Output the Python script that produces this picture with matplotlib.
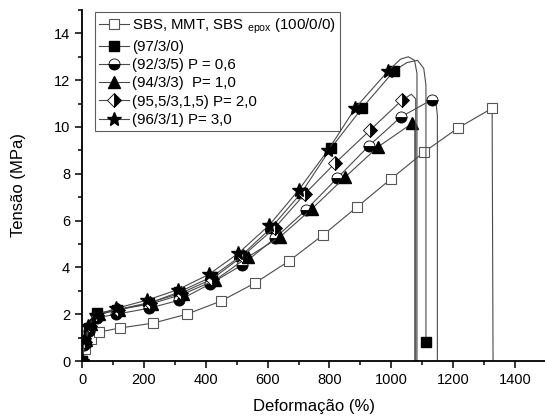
import matplotlib.pyplot as plt
from matplotlib.ticker import MultipleLocator

plt.rcParams["font.family"] = ["Liberation Sans", "DejaVu Sans"]
plt.rcParams["mathtext.fontset"] = "custom"
plt.rcParams["mathtext.rm"] = "Liberation Sans"

# strain (%) and stress (MPa); last points are the rupture tail
x_100 = [0, 10, 28, 55, 123, 230, 339, 449, 559, 669, 779, 889, 999, 1106, 1216, 1326, 1329]
y_100 = [0, 0.5, 0.95, 1.24, 1.41, 1.62, 2.0, 2.56, 3.33, 4.27, 5.38, 6.58, 7.78, 8.93, 9.96, 10.8, 0]

x_97 = [0, 10, 22, 48, 113, 217, 314, 420, 515, 612, 710, 805, 905, 1009, 1050, 1085, 1105, 1112, 1112]
y_97 = [0, 0.8, 1.4, 2.05, 2.18, 2.47, 2.95, 3.6, 4.5, 5.7, 7.2, 9.1, 10.8, 12.4, 12.75, 12.85, 12.5, 11.8, 0.8]

x_92 = [0, 8, 22, 50, 110, 215, 315, 415, 517, 624, 724, 824, 928, 1031, 1132, 1145, 1149, 1149]
y_92 = [0, 0.7, 1.3, 1.85, 2.0, 2.25, 2.6, 3.3, 4.1, 5.25, 6.45, 7.8, 9.2, 10.43, 11.17, 11.0, 10.5, 0]

x_94 = [0, 12, 28, 55, 120, 225, 325, 430, 537, 640, 743, 850, 957, 1067, 1076, 1076]
y_94 = [0, 0.9, 1.6, 2.0, 2.2, 2.45, 2.85, 3.45, 4.45, 5.3, 6.5, 7.85, 9.15, 10.15, 10.1, 0]

x_95 = [0, 10, 25, 50, 115, 220, 320, 420, 521, 624, 721, 818, 931, 1034, 1065, 1079, 1079]
y_95 = [0, 0.8, 1.5, 1.95, 2.2, 2.5, 2.9, 3.5, 4.5, 5.7, 7.15, 8.45, 9.86, 11.14, 11.4, 11.2, 0]

x_96 = [0, 8, 20, 45, 110, 210, 310, 410, 505, 605, 700, 795, 883, 990, 1030, 1055, 1075, 1083, 1083]
y_96 = [0, 0.9, 1.5, 1.95, 2.25, 2.6, 3.05, 3.7, 4.6, 5.8, 7.3, 9.0, 10.8, 12.4, 12.9, 13.0, 12.85, 12.3, 0]

labels = ["SBS, MMT, SBS $_{\\mathrm{epox}}$ (100/0/0)", "(97/3/0)", "(92/3/5) P = 0,6",
          "(94/3/3)  P= 1,0", "(95,5/3,1,5) P= 2,0", "(96/3/1) P= 3,0"]

fig = plt.figure(figsize=(5.45, 4.16), dpi=100)
ax = fig.add_axes([0.1505, 0.1322, 0.8495, 0.8438])

lc = "#4a4a4a"
lw = 0.8
ax.plot(x_100, y_100, color=lc, lw=lw, marker="s", ms=7.5, mfc="white", mec="#555555",
        mew=0.8, markevery=slice(0, 16), label=labels[0])
ax.plot(x_97, y_97, color=lc, lw=lw, marker="s", ms=7.5, mfc="black", mec="black",
        markevery=list(range(14)) + [18], label=labels[1])
ax.plot(x_92, y_92, color=lc, lw=lw, marker="o", ms=8, fillstyle="bottom", mfc="black",
        mfcalt="white", mec="black", mew=0.6, markevery=slice(0, 15), label=labels[2])
ax.plot(x_94, y_94, color=lc, lw=lw, marker="^", ms=8.5, mfc="black", mec="black",
        markevery=slice(0, 14), label=labels[3])
ax.plot(x_95, y_95, color=lc, lw=lw, marker="D", ms=7, fillstyle="right", mfc="black",
        mfcalt="white", mec="black", mew=0.6, markevery=slice(0, 14), label=labels[4])
ax.plot(x_96, y_96, color=lc, lw=lw, marker="*", ms=10, mfc="black", mec="black",
        markevery=slice(0, 14), label=labels[5])

ax.set_xlim(0, 1497)
ax.set_ylim(0, 15)
ax.xaxis.set_major_locator(MultipleLocator(200))
ax.xaxis.set_minor_locator(MultipleLocator(100))
ax.yaxis.set_major_locator(MultipleLocator(2))
ax.yaxis.set_minor_locator(MultipleLocator(1))
ax.tick_params(which="major", direction="out", length=5, width=1.1, labelsize=10.5)
ax.tick_params(which="minor", direction="out", length=3, width=1.1)
ax.spines["top"].set_visible(False)
ax.spines["right"].set_visible(False)
ax.spines["left"].set_linewidth(1.3)
ax.spines["bottom"].set_linewidth(1.3)

ax.set_xlabel("Deformação (%)", fontsize=12, labelpad=9)
ax.set_ylabel("Tensão (MPa)", fontsize=12, labelpad=20)

leg = ax.legend(loc="upper left", bbox_to_anchor=(0.027, 0.995), borderaxespad=0,
                fontsize=10.8, frameon=True, fancybox=False, handlelength=2.0,
                handletextpad=0.2, labelspacing=0.28, borderpad=0.3)
leg.get_frame().set_edgecolor("#333333")
leg.get_frame().set_linewidth(0.8)

fig.savefig("out.png", dpi=100)
